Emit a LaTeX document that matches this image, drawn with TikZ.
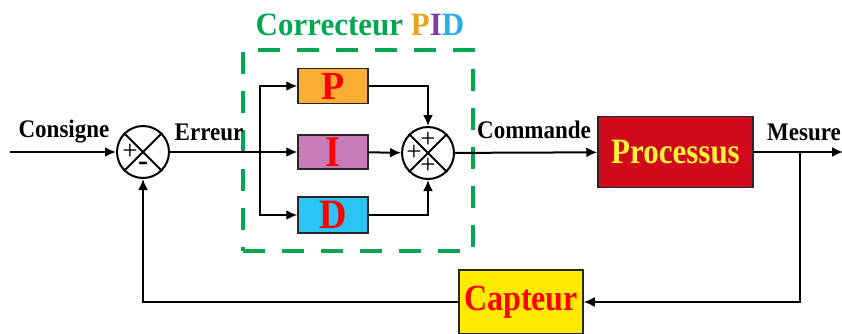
\documentclass[tikz,border=0pt]{standalone}
\usepackage{fontspec}
\setmainfont{Liberation Serif}
\usetikzlibrary{arrows.meta}
\definecolor{pidgreen}{HTML}{00A651}
\definecolor{porange}{HTML}{F9AE33}
\definecolor{imauve}{HTML}{C97DB8}
\definecolor{dblue}{HTML}{2CC4F2}
\definecolor{procred}{HTML}{D00A1C}
\definecolor{capyellow}{HTML}{FFEA00}
\definecolor{txtyellow}{HTML}{FFF23A}
\definecolor{ttlorange}{HTML}{E9A21F}
\definecolor{ttlpurple}{HTML}{7B3FA8}
\definecolor{ttlblue}{HTML}{27AEE8}
\newcommand{\tallx}[2]{\scalebox{1}[#1]{#2}}
\begin{document}
\begin{tikzpicture}[x=1pt,y=-1pt,
  wire/.style={line width=2pt,draw=black},
  arr/.style={wire,-{Latex[length=11pt,width=10pt]}},
  lbl/.style={inner sep=0pt,font=\fontsize{23}{23}\selectfont\bfseries},
  summer/.style={circle,draw=black,line width=2pt,minimum size=52pt,inner sep=0pt},
  sgn/.style={inner sep=0pt,font=\fontsize{27}{27}\selectfont},
  block/.style={draw=black!85,line width=1.5pt,inner sep=0pt},
  letter/.style={text=red,font=\fontsize{38}{38}\selectfont\bfseries}]
\useasboundingbox (0,0) rectangle (842,333);
% summers
\node[summer] (s1) at (143,152) {};
\draw[line width=2pt] (s1.north west) -- (s1.south east) (s1.north east) -- (s1.south west);
\node[sgn] (s1p) at ([xshift=-13pt]s1.center) {+};
\node[sgn,font=\fontsize{30}{30}\selectfont\bfseries] (s1m) at ([yshift=-14pt]s1.center) {-};
\node[summer] (s2) at (428,153) {};
\draw[line width=2pt] (s2.north west) -- (s2.south east) (s2.north east) -- (s2.south west);
\node[sgn] (s2t) at ([yshift=13pt]s2.center) {+};
\node[sgn] (s2l) at ([xshift=-14pt]s2.center) {+};
\node[sgn] (s2b) at ([yshift=-13pt]s2.center) {+};
% PID blocks
\node[block,fill=porange,minimum width=70pt,minimum height=35pt,letter] (P) at (333,86) {\tallx{1.05}{P}};
\node[block,fill=imauve,minimum width=70pt,minimum height=34pt,letter] (I) at (333,152) {\tallx{1.15}{I}};
\node[block,fill=dblue,minimum width=70pt,minimum height=36pt,letter] (D) at (333,215) {\tallx{1.1}{D}};
% process and sensor
\node[block,fill=procred,minimum width=155pt,minimum height=71pt,text=txtyellow,font=\fontsize{31}{31}\selectfont\bfseries] (proc) at (675.5,152) {\tallx{1.15}{Processus}};
\node[block,fill=capyellow,minimum width=124pt,minimum height=64pt,text=red,font=\fontsize{32}{32}\selectfont\bfseries] (cap) at (521,302) {\tallx{1.15}{Capteur}};
% dashed PID frame
\node[draw=pidgreen,line width=4pt,dash pattern=on 22pt off 17pt,minimum width=230pt,minimum height=201pt,inner sep=0pt] (frame) at (358,150.5) {};
\node[inner sep=0pt,font=\fontsize{31}{31}\selectfont\bfseries] (title) at (360,25) {\tallx{1.05}{\textcolor{pidgreen}{Correcteur} \textcolor{ttlorange}{P}\textcolor{ttlpurple}{I}\textcolor{ttlblue}{D}}};
% labels
\node[lbl] (lc) at (64,132) {\tallx{1.1}{Consigne}};
\node[lbl] (le) at (209,132) {\tallx{1.1}{Erreur}};
\node[lbl] (lcm) at (534,130) {\tallx{1.1}{Commande}};
\node[lbl] (lm) at (804,132) {\tallx{1.1}{Mesure}};
% connectors
\coordinate (in) at (10,152);
\coordinate (br) at (260,152);
\coordinate (m) at (800,152);
\coordinate (out) at (843,152);
\draw[arr] (in) -- (s1);
\draw[arr] (s1) -- (I);
\draw[arr] (br) |- (P);
\draw[arr] (br) |- (D);
\draw[arr] (P) -| (s2);
\draw[arr] (I) -- (s2);
\draw[arr] (D) -| (s2);
\draw[arr] (s2) -- (proc);
\draw[arr] (proc) -- (out);
\draw[arr] (m) |- (cap);
\draw[arr] (cap) -| (s1);
\end{tikzpicture}
\end{document}
